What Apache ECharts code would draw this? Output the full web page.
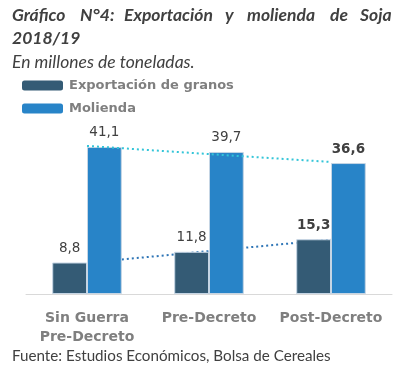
<!DOCTYPE html>
<html><head><meta charset="utf-8">
<script src="https://cdn.jsdelivr.net/npm/echarts@6/dist/echarts.min.js"></script>
<style>html,body{margin:0;padding:0;background:#fff}#c{width:407px;height:378px}</style>
</head><body><div id="c"></div>
<script>
const categories = ['Sin Guerra\nPre-Decreto', 'Pre-Decreto', 'Post-Decreto'];
const seriesNames = ['Exportación de granos', 'Molienda'];
const exportacion = [8.8, 11.8, 15.3];
const molienda = [41.1, 39.7, 36.6];
const trendExportacion = [8.7, 12.0, 15.2];
const trendMolienda = [41.4, 39.1, 36.9];
const boldLabelIndex = [2];
const titleWords = ['Gráfico', 'N°4:', 'Exportación', 'y', 'molienda', 'de', 'Soja'];
const titleWordX = [12, 80, 124, 225, 247, 330, 360];
const titleLine2 = '2018/19';
const subtitle = 'En millones de toneladas.';
const footer = 'Fuente: Estudios Económicos, Bolsa de Cereales';

const chart = echarts.init(document.getElementById('c'));
const fmt = p => String(p.value).replace('.', ',');
const mk = arr => arr.map((v, i) => boldLabelIndex.includes(i) ? {value: v, label: {fontWeight: 'bold'}} : v);
const labelStyle = {show: true, position: 'top', distance: 7, formatter: fmt, color: '#404040', fontSize: 13.5, fontFamily: 'DejaVu Sans'};
const titleFont = {fontFamily: 'Lato', fontSize: 17.5, fontWeight: 'bold', fontStyle: 'italic', fill: '#404040'};

chart.setOption({
  animation: false,
  graphic: [
    ...titleWords.map((w, i) => ({type: 'text', left: titleWordX[i], top: 6, style: Object.assign({text: w}, titleFont)})),
    {type: 'text', left: 12, top: 29, style: Object.assign({text: titleLine2}, titleFont)},
    {type: 'text', left: 12, top: 53, style: {text: subtitle, fontFamily: 'Lato', fontSize: 17.5, fontStyle: 'italic', fill: '#404040'}},
    {type: 'text', left: 12, top: 349, style: {text: footer, fontFamily: 'Lato', fontSize: 15.2, fill: '#404040'}}
  ],
  legend: {
    orient: 'vertical', left: 22, top: 79, padding: 0, itemWidth: 41, itemHeight: 10, itemGap: 10,
    data: seriesNames,
    textStyle: {color: '#7F7F7F', fontSize: 13, fontWeight: 'bold', fontFamily: 'DejaVu Sans', padding: [0, 0, 0, 1]},
    itemStyle: {borderWidth: 0}
  },
  grid: {left: 26, right: 15, top: 133, bottom: 84},
  xAxis: {
    type: 'category', data: categories,
    axisLine: {lineStyle: {color: '#D9D9D9', width: 1}},
    axisTick: {show: false},
    axisLabel: {interval: 0, color: '#7F7F7F', fontSize: 14, fontWeight: 'bold', fontFamily: 'DejaVu Sans', margin: 15, lineHeight: 19}
  },
  yAxis: {type: 'value', min: 0, max: 45, show: false, splitLine: {show: false}},
  series: [
    {name: seriesNames[0], type: 'bar', data: mk(exportacion), barGap: '0%', barCategoryGap: '43%', z: 2,
      itemStyle: {color: '#345B75', borderColor: '#C5D5E4', borderWidth: 1}, label: labelStyle},
    {name: seriesNames[1], type: 'bar', data: mk(molienda), z: 2,
      itemStyle: {color: '#2884C8', borderColor: '#C5D5E4', borderWidth: 1}, label: labelStyle},
    {type: 'line', data: trendExportacion, z: 1, symbol: 'none', silent: true,
      lineStyle: {color: '#2E75B6', width: 2, type: [2, 3]}},
    {type: 'line', data: trendMolienda, z: 3, symbol: 'none', silent: true,
      lineStyle: {color: '#33C5D8', width: 2, type: [2, 3]}}
  ]
});
</script></body></html>
